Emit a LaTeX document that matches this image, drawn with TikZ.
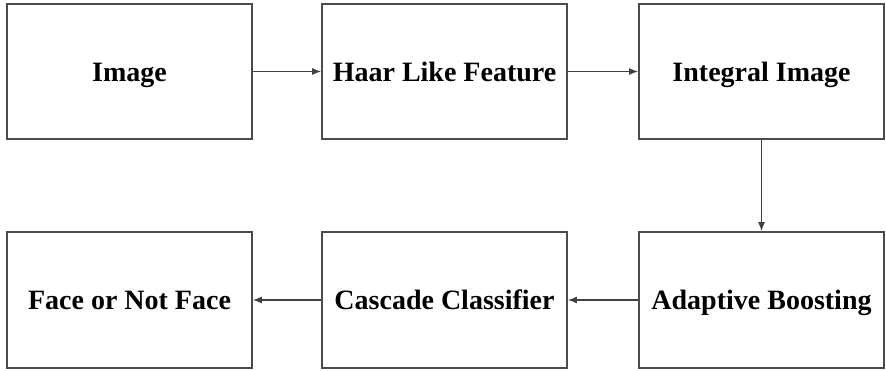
\documentclass[tikz,border=0pt]{standalone}
\usepackage{fontspec}
\setmainfont{Liberation Serif}
\usetikzlibrary{arrows.meta}
\begin{document}
\begin{tikzpicture}[x=1pt,y=1pt,
  blk/.style={draw=black!70, line width=1.6pt, minimum width=245pt, minimum height=135pt, inner sep=0pt,
    text height=22pt, text depth=3pt,
    font=\fontsize{28}{30}\selectfont\bfseries, text=black},
  flow/.style={draw=black!75, line width=1.4pt, -{Latex[length=9pt,width=7pt]}}]
\useasboundingbox (0,0) rectangle (886,-370);
\node[blk] (img) at (129.5,-71.5) {Image};
\node[blk] (haar) at (444.5,-71.5) {Haar Like Feature};
\node[blk] (integ) at (761.5,-71.5) {Integral Image};
\node[blk, minimum height=136pt] (face) at (129.5,-300) {Face or Not Face};
\node[blk, minimum height=136pt] (casc) at (444.5,-300) {Cascade Classifier};
\node[blk, minimum height=136pt] (ada) at (761.5,-300) {Adaptive Boosting};
\draw[flow] (img) -- (haar);
\draw[flow] (haar) -- (integ);
\draw[flow] (integ) -- (ada);
\draw[flow] (ada) -- (casc);
\draw[flow] (casc) -- (face);
\end{tikzpicture}
\end{document}
